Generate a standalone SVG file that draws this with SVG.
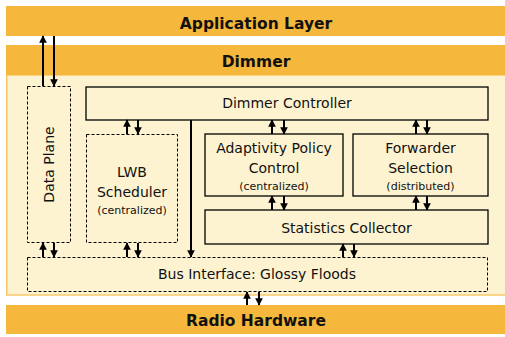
<svg xmlns="http://www.w3.org/2000/svg" width="505" height="337" viewBox="0 0 505 337">
<defs>
<marker id="ah" viewBox="0 0 10 10" refX="9" refY="5" markerWidth="3.8" markerHeight="3.8" orient="auto" markerUnits="strokeWidth"><path d="M0,0 L10,5 L0,10 z" fill="#000"/></marker>
<style>
.bar{fill:#F5B83C}
.light{fill:#FDF3D0;stroke:#F7C76A;stroke-width:1.5}
.box{fill:none;stroke:#000;stroke-width:1.3}
.dbox{fill:none;stroke:#000;stroke-width:1;stroke-dasharray:3,2}
.title{font-family:"DejaVu Sans",sans-serif;font-weight:bold;font-size:15.5px;text-anchor:middle;fill:#111}
.t{font-family:"DejaVu Sans",sans-serif;font-size:14px;text-anchor:middle;fill:#111}
.s{font-family:"DejaVu Sans",sans-serif;font-size:11px;text-anchor:middle;fill:#111}
.a{stroke:#000;stroke-width:2;fill:none;marker-end:url(#ah)}
</style>
</defs>
<rect x="6" y="6" width="499" height="30" class="bar"/>
<rect x="6.75" y="75" width="500" height="220" class="light"/>
<rect x="6" y="45" width="499" height="30" class="bar"/>
<rect x="6" y="305" width="499" height="29" class="bar"/>
<g id="app"><text x="256" y="29" class="title">Application Layer</text></g>
<g id="dimmer"><text x="256" y="67" class="title">Dimmer</text></g>
<g id="radio"><text x="256" y="326" class="title">Radio Hardware</text></g>
<g id="dataplane"><rect x="27.5" y="86.5" width="43" height="156" class="dbox"/><text transform="translate(54,164.5) rotate(-90)" class="t">Data Plane</text></g>
<g id="controller"><rect x="86" y="87" width="402" height="33" class="box"/><text x="287" y="108" class="t">Dimmer Controller</text></g>
<g id="lwb"><rect x="86.5" y="134.5" width="91" height="108" class="dbox"/><text x="132" y="177" class="t">LWB</text><text x="132" y="197" class="t">Scheduler</text><text x="132" y="214" class="s">(centralized)</text></g>
<g id="adaptivity"><rect x="205" y="134" width="138" height="62" class="box"/><text x="274" y="153" class="t">Adaptivity Policy</text><text x="274" y="173" class="t">Control</text><text x="274" y="190" class="s">(centralized)</text></g>
<g id="forwarder"><rect x="353" y="134" width="135" height="62" class="box"/><text x="420.5" y="153" class="t">Forwarder</text><text x="420.5" y="173" class="t">Selection</text><text x="420.5" y="190" class="s">(distributed)</text></g>
<g id="stats"><rect x="205" y="210" width="283" height="34" class="box"/><text x="346.5" y="233" class="t">Statistics Collector</text></g>
<g id="bus"><rect x="27.5" y="257.5" width="460" height="34" class="dbox"/><text x="257" y="279" class="t">Bus Interface: Glossy Floods</text></g>
<g id="connectors">
<path d="M43,86 V36" class="a"/><path d="M54,36 V86" class="a"/>
<path d="M127,134 V120" class="a"/><path d="M138,120 V134" class="a"/>
<path d="M43,257 V243" class="a"/><path d="M54,243 V257" class="a"/>
<path d="M127,257 V243" class="a"/><path d="M138,243 V257" class="a"/>
<path d="M191,120 V257" class="a"/>
<path d="M272,134 V120" class="a"/><path d="M284,120 V134" class="a"/>
<path d="M416,134 V120" class="a"/><path d="M427,120 V134" class="a"/>
<path d="M272,210 V196" class="a"/><path d="M284,196 V210" class="a"/>
<path d="M416,210 V196" class="a"/><path d="M427,196 V210" class="a"/>
<path d="M343,257 V244" class="a"/><path d="M354,244 V257" class="a"/>
<path d="M247,305 V292" class="a"/><path d="M259,292 V305" class="a"/>
</g>
</svg>
